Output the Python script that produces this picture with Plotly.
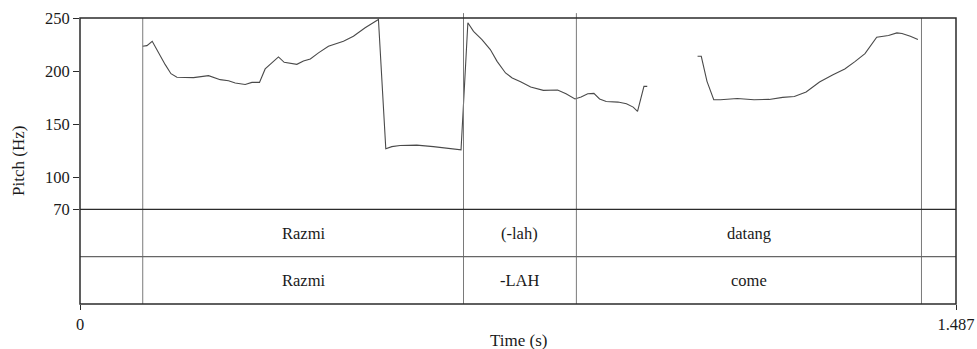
import plotly.graph_objects as go

# ---- data ----
pitch_time = [0.1062, 0.1136, 0.1226, 0.1334, 0.1447, 0.1544, 0.1645, 0.1927, 0.2182, 0.2380,
              0.2521, 0.2635, 0.2804, 0.2918, 0.3047, 0.3143, 0.3257, 0.3369, 0.3466, 0.3567,
              0.3681, 0.3793, 0.3910, 0.4048, 0.4217, 0.4472, 0.4641, 0.4840, 0.4980, 0.5066,
              0.5191, 0.5293, 0.5433, 0.5717, 0.5998, 0.6282, 0.6468, 0.6584, 0.6680, 0.6823,
              0.6965, 0.7080, 0.7223, 0.7337, 0.7479, 0.7650, 0.7866, 0.8107, 0.8250, 0.8402,
              0.8506, 0.8619, 0.8723, 0.8820, 0.8933, 0.9133, 0.9276, 0.9390, 0.9464, 0.9573,
              0.9629, 1.0000, 1.0483, 1.0546, 1.0643, 1.0758, 1.0872, 1.1157, 1.1442, 1.1698,
              1.1927, 1.2126, 1.2326, 1.2553, 1.2782, 1.2982, 1.3154, 1.3325, 1.3524, 1.3724,
              1.3866, 1.3953, 1.4095, 1.4224]
pitch_hz = [223.4, 224.0, 228.1, 217.2, 206.1, 197.6, 194.2, 193.9, 195.8, 192.0,
            191.0, 188.9, 187.5, 189.4, 189.4, 202.1, 207.7, 213.4, 208.3, 207.1,
            206.4, 209.6, 211.5, 217.2, 223.4, 228.1, 232.8, 240.8, 245.5, 248.6,
            126.9, 129.0, 130.0, 130.4, 129.0, 127.2, 126.0, 245.5, 237.5, 229.7,
            220.3, 209.2, 198.3, 193.6, 190.1, 185.1, 181.9, 182.3, 178.8, 173.8,
            175.7, 178.8, 179.1, 173.8, 171.5, 170.9, 169.3, 166.2, 162.1, 185.7,
            185.7, None, 214.0, 214.0, 190.4, 173.1, 173.1, 174.3, 173.1, 173.4,
            175.3, 176.2, 180.4, 189.8, 196.7, 202.1, 209.0, 216.5, 231.9, 233.5,
            236.0, 235.4, 232.8, 229.7]

boundaries = [0.0, 0.1065, 0.6510, 0.8426, 1.4284, 1.487]
tier1_labels = ["", "Razmi", "(-lah)", "datang", ""]
tier2_labels = ["", "Razmi", "-LAH", "come", ""]

x_ticks = [0, 1.487]
x_ticklabels = ["0", "1.487"]
y_ticks = [70, 100, 150, 200, 250]

# ---- style ----
FONT = "Liberation Serif"
SZ = 16.5
SZ_TITLE = 17
TXT = "#1a1a1a"
FRAME = "#2b2b2b"
BOUND = "#7a7a7a"
PITCH_DOMAIN_BOTTOM = 0.331

fig = go.Figure()
fig.add_trace(go.Scatter(x=pitch_time, y=pitch_hz, mode="lines",
                         line=dict(color="#4a4a4a", width=1.1),
                         connectgaps=False, hoverinfo="skip", showlegend=False))
fig.add_trace(go.Scatter(x=[0], y=[0], yaxis="y2", mode="markers",
                         marker=dict(opacity=0), showlegend=False, hoverinfo="skip"))

shapes = []
inner = boundaries[1:-1]
for i, b in enumerate(inner):
    top = 1.017 if i in (1, 2) else 1.0
    shapes.append(dict(type="line", xref="x", yref="paper", x0=b, x1=b, y0=0, y1=top,
                       line=dict(color=BOUND, width=1)))
shapes.append(dict(type="line", xref="paper", yref="paper", x0=0, x1=1,
                   y0=PITCH_DOMAIN_BOTTOM, y1=PITCH_DOMAIN_BOTTOM,
                   line=dict(color=FRAME, width=1.2)))
shapes.append(dict(type="line", xref="paper", yref="y2", x0=0, x1=1, y0=1, y1=1,
                   line=dict(color="#666666", width=1.2)))
shapes.append(dict(type="rect", xref="paper", yref="paper", x0=0, x1=1, y0=0, y1=1,
                   line=dict(color=FRAME, width=1.5)))

annotations = []
for i in range(len(boundaries) - 1):
    mid = (boundaries[i] + boundaries[i + 1]) / 2
    if tier1_labels[i]:
        annotations.append(dict(x=mid, y=1.5, xref="x", yref="y2", text=tier1_labels[i],
                                showarrow=False, font=dict(family=FONT, size=SZ, color=TXT)))
    if tier2_labels[i]:
        annotations.append(dict(x=mid, y=0.5, xref="x", yref="y2", text=tier2_labels[i],
                                showarrow=False, font=dict(family=FONT, size=SZ, color=TXT)))
annotations.append(dict(x=0.5, y=-0.129, xref="paper", yref="paper", text="Time (s)",
                        showarrow=False, yanchor="middle",
                        font=dict(family=FONT, size=SZ_TITLE, color=TXT)))
annotations.append(dict(x=-0.0708, y=0.5, xref="paper", yref="paper", text="Pitch (Hz)",
                        showarrow=False, textangle=-90, xanchor="center", yanchor="middle",
                        font=dict(family=FONT, size=SZ_TITLE, color=TXT)))

fig.update_layout(
    width=977, height=349,
    margin=dict(l=80, r=21, t=18, b=45, autoexpand=False),
    paper_bgcolor="white", plot_bgcolor="white",
    font=dict(family=FONT, size=SZ, color=TXT),
    shapes=shapes, annotations=annotations,
    xaxis=dict(range=[0, 1.487], tickvals=x_ticks, ticktext=x_ticklabels,
               ticks="outside", ticklen=5, tickcolor=FRAME, tickwidth=1.2,
               showgrid=False, zeroline=False, showline=False, anchor="y2",
               automargin=False,
               tickfont=dict(family=FONT, size=SZ, color=TXT)),
    yaxis=dict(domain=[PITCH_DOMAIN_BOTTOM, 1], range=[70, 250], tickvals=y_ticks,
               ticks="outside", ticklen=6, tickcolor=FRAME, tickwidth=1.2,
               showgrid=False, zeroline=False, showline=False, automargin=False,
               tickfont=dict(family=FONT, size=SZ, color=TXT)),
    yaxis2=dict(domain=[0, PITCH_DOMAIN_BOTTOM], range=[0, 2], showticklabels=False,
                ticks="", showgrid=False, zeroline=False, showline=False),
)

fig.write_html("out.html")
